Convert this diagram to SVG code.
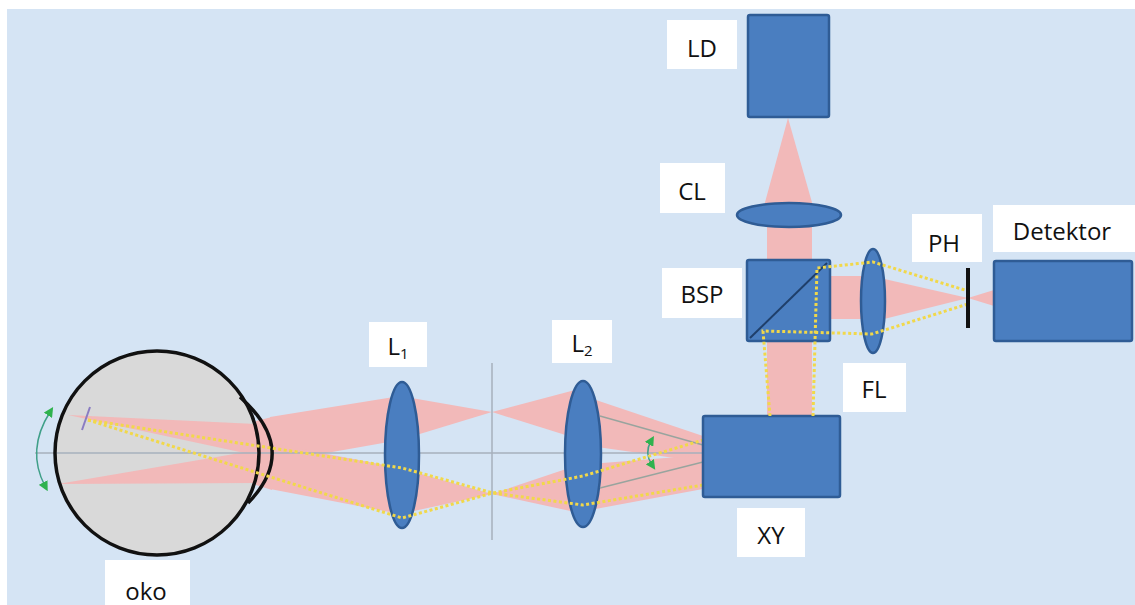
<svg xmlns="http://www.w3.org/2000/svg" width="1135" height="605" viewBox="0 0 1135 605">
  <style>
    .lbl { fill: #ffffff; }
    .txt { font-family: "Open Sans", "Liberation Sans", sans-serif; font-size: 24px; fill: #111111; text-anchor: middle; }
    .box { fill: #4a7ec0; stroke: #2f5c95; stroke-width: 2.5; }
    .lens { fill: #4a7ec0; stroke: #2f5c95; stroke-width: 2.5; }
    .beam { fill: #f2b9b9; }
    .ray { fill: none; stroke: #f1d84a; stroke-width: 3; stroke-dasharray: 3 2.5; }
    .axis { fill: none; stroke: #a6b0bd; stroke-width: 1.5; }
    .guide { fill: none; stroke: #98a49e; stroke-width: 1.3; }
    .scan { fill: none; stroke: #3f9f88; stroke-width: 1.5; }
  </style>
  <defs>
    <marker id="arrowGreen" viewBox="0 0 10 10" refX="4" refY="5" markerWidth="6.5" markerHeight="6.5" orient="auto-start-reverse" markerUnits="strokeWidth">
      <path d="M0,0 L10,5 L0,10 Z" fill="#2fb24e"/>
    </marker>
  </defs>

  <!-- background panel -->
  <rect x="0" y="0" width="1135" height="605" fill="#ffffff"/>
  <rect x="7" y="9" width="1128" height="596" fill="#d5e4f4"/>

  <!-- eye body -->
  <g id="eye">
    <circle cx="157" cy="453" r="102" fill="#d9d9d9"/>
    <!-- light inside the eye -->
    <polygon class="beam" points="68,415 258,424 258,456"/>
    <polygon class="beam" points="58,484 258,450 258,483"/>
    <polygon class="beam" points="256,421 272,417 272,490 256,485"/>
  </g>

  <!-- light beams -->
  <g id="beams">
    <polygon class="beam" points="270,417 400,396 400,440 270,463"/>
    <polygon class="beam" points="270,489 400,514 400,468 270,443"/>
    <polygon class="beam" points="400,396 400,440 492,412"/>
    <polygon class="beam" points="400,468 400,514 492,494"/>
    <polygon class="beam" points="492,412 575,390 575,438"/>
    <polygon class="beam" points="492,494 575,466 575,512"/>
    <polygon class="beam" points="590,398 703,436 703,462 590,446"/>
    <polygon class="beam" points="590,464 703,455 703,489 590,510"/>
    <!-- laser path -->
    <polygon class="beam" points="788,118 764,206 813,206"/>
    <rect class="beam" x="767" y="212" width="45" height="205"/>
    <!-- detection path -->
    <rect class="beam" x="828" y="276" width="40" height="43"/>
    <polygon class="beam" points="880,278 880,320 968,298"/>
    <polygon class="beam" points="968,298 994,290 994,306"/>
  </g>

  <!-- optical axis and intermediate image plane -->
  <g id="axes">
    <line class="axis" x1="35" y1="453" x2="703" y2="453"/>
    <line class="axis" x1="492" y1="363" x2="492" y2="540"/>
  </g>

  <!-- eye outline -->
  <g id="eye-outline">
    <circle cx="157" cy="453" r="102" fill="none" stroke="#111111" stroke-width="3.5"/>
    <path d="M240,397 Q300,450 248,503" fill="none" stroke="#111111" stroke-width="3.5"/>
    <line x1="90" y1="407" x2="82" y2="430" stroke="#8a7cc2" stroke-width="2"/>
    <path class="scan" d="M50,412 Q26,450 45,486" marker-start="url(#arrowGreen)" marker-end="url(#arrowGreen)"/>
  </g>

  <!-- lenses -->
  <g id="L1"><ellipse class="lens" cx="402" cy="455" rx="17" ry="73"/></g>
  <g id="L2"><ellipse class="lens" cx="583" cy="454" rx="18" ry="73"/></g>

  <!-- scanned rays -->
  <g id="connectors">
    <line class="guide" x1="600" y1="416" x2="703" y2="445"/>
    <line class="guide" x1="600" y1="488" x2="703" y2="462"/>
    <path class="scan" d="M651,441 Q644,453 652,465" marker-start="url(#arrowGreen)" marker-end="url(#arrowGreen)"/>
    <path class="ray" d="M88,420 L402,468 L493,493 L583,505 L703,485"/>
    <path class="ray" d="M88,420 L402,518 L493,493 L583,476 L703,440"/>
  </g>

  <!-- scanner -->
  <g id="XY"><rect class="box" x="703" y="416" width="137" height="81" rx="2"/></g>

  <!-- laser diode -->
  <g id="LD"><rect class="box" x="748" y="15" width="81" height="102" rx="2"/></g>

  <!-- collimating lens -->
  <g id="CL"><ellipse class="lens" cx="789" cy="215" rx="52" ry="12"/></g>

  <!-- beam splitter cube -->
  <g id="BSP">
    <rect class="box" x="747" y="260" width="83" height="81" rx="2"/>
    <line x1="750" y1="338" x2="827" y2="263" stroke="#1f3f6a" stroke-width="2"/>
  </g>

  <!-- focusing lens -->
  <g id="FL"><ellipse class="lens" cx="873" cy="301" rx="12" ry="52"/></g>

  <!-- returning rays through the splitter -->
  <g id="return-rays">
    <path class="ray" d="M770,416 L763,331 L872,334 L968,304"/>
    <path class="ray" d="M813,416 L817,268 L873,262 L968,291"/>
  </g>

  <!-- pinhole -->
  <g id="PH"><line x1="968" y1="268" x2="968" y2="328" stroke="#111111" stroke-width="4"/></g>

  <!-- detector -->
  <g id="Detektor"><rect class="box" x="994" y="261" width="138" height="80" rx="2"/></g>

  <!-- labels -->
  <g id="labels">
    <rect class="lbl" x="667" y="20" width="70" height="49"/>
    <text class="txt" x="702" y="57">LD</text>
    <rect class="lbl" x="660" y="163" width="65" height="50"/>
    <text class="txt" x="692" y="200">CL</text>
    <rect class="lbl" x="662" y="268" width="80" height="50"/>
    <text class="txt" x="702" y="303">BSP</text>
    <rect class="lbl" x="912" y="214" width="70" height="48"/>
    <text class="txt" x="944" y="252">PH</text>
    <rect class="lbl" x="993" y="205" width="142" height="47"/>
    <text class="txt" x="1062" y="240">Detektor</text>
    <rect class="lbl" x="843" y="363" width="63" height="49"/>
    <text class="txt" x="874" y="398">FL</text>
    <rect class="lbl" x="737" y="508" width="68" height="49"/>
    <text class="txt" x="771" y="544">XY</text>
    <rect class="lbl" x="369" y="322" width="58" height="45"/>
    <text class="txt" x="398" y="355">L<tspan font-size="15" dy="4">1</tspan></text>
    <rect class="lbl" x="552" y="320" width="60" height="43"/>
    <text class="txt" x="582" y="352">L<tspan font-size="15" dy="4">2</tspan></text>
    <rect class="lbl" x="105" y="560" width="85" height="45"/>
    <text class="txt" x="146" y="600">oko</text>
  </g>
</svg>
